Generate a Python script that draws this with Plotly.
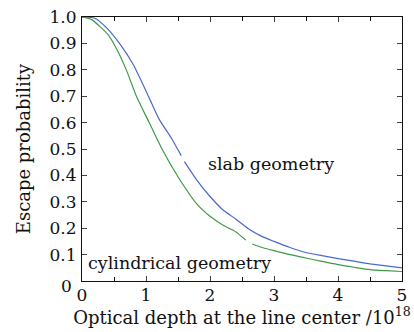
import plotly.graph_objects as go

tau_slab = [0, 0.2, 0.4, 0.6, 0.8, 1.0, 1.2, 1.4, 1.55, None, 1.6, 1.8, 2.0, 2.2, 2.4, 2.6, 2.8, 3.0, 3.25, 3.5, 3.75, 4.0, 4.25, 4.5, 4.75, 5.0]
p_slab = [1.0, 0.995, 0.955, 0.895, 0.82, 0.72, 0.615, 0.54, 0.475, None, 0.452, 0.38, 0.32, 0.27, 0.235, 0.198, 0.17, 0.15, 0.127, 0.108, 0.096, 0.085, 0.075, 0.065, 0.057, 0.05]

tau_cyl = [0, 0.15, 0.4, 0.55, 0.7, 0.85, 1.05, 1.25, 1.5, 1.8, 2.0, 2.2, 2.4, 2.56, None, 2.66, 2.8, 3.0, 3.25, 3.5, 3.75, 4.0, 4.25, 4.5, 4.75, 5.0]
p_cyl = [1.0, 0.99, 0.935, 0.875, 0.795, 0.7, 0.6, 0.5, 0.395, 0.29, 0.245, 0.212, 0.187, 0.155, None, 0.14, 0.128, 0.115, 0.1, 0.087, 0.074, 0.062, 0.052, 0.043, 0.039, 0.036]

y_ticks = [0, 0.1, 0.2, 0.3, 0.4, 0.5, 0.6, 0.7, 0.8, 0.9, 1.0]
y_labels = ["0", "0.1", "0.2", "0.3", "0.4", "0.5", "0.6", "0.7", "0.8", "0.9", "1.0"]
x_ticks = [0, 1, 2, 3, 4, 5]

FONT = "DejaVu Serif"

fig = go.Figure()
fig.add_trace(go.Scatter(x=tau_slab, y=p_slab, mode="lines",
                         line=dict(color="#4a68cc", width=1.2, shape="spline", smoothing=0.6),
                         showlegend=False))
fig.add_trace(go.Scatter(x=tau_cyl, y=p_cyl, mode="lines",
                         line=dict(color="#3f9a48", width=1.2, shape="spline", smoothing=0.6),
                         showlegend=False))

fig.add_annotation(x=2.95, y=0.445, text="slab geometry", showarrow=False,
                   font=dict(family=FONT, size=17.5, color="#111"))
fig.add_annotation(x=1.53, y=0.07, text="cylindrical geometry", showarrow=False,
                   font=dict(family=FONT, size=17.5, color="#111"))
# y-axis "0" label sits slightly below its tick in the reference
fig.add_annotation(xref="paper", x=0, y=y_ticks[0], text=y_labels[0], showarrow=False,
                   xanchor="right", yanchor="middle", xshift=-8, yshift=-5,
                   font=dict(family=FONT, size=17, color="#111"))

fig.update_layout(
    width=414, height=332,
    margin=dict(l=82, r=7, t=14, b=51),
    paper_bgcolor="white", plot_bgcolor="white",
    font=dict(family=FONT, size=16, color="#111"),
    xaxis=dict(range=[0, 5], tickvals=x_ticks, ticks="inside", ticklen=5,
               showline=True, linecolor="#111", linewidth=1.2, mirror="ticks",
               showgrid=False, zeroline=False, tickfont=dict(size=17),
               ticklabelstandoff=-2,
               minor=dict(dtick=0.5, ticks="inside", ticklen=4, tickcolor="#111", showgrid=False),
               title=dict(text="Optical depth at the line center /10<sup>18</sup>",
                          font=dict(size=18), standoff=2)),
    yaxis=dict(range=[0, 1.0], tickvals=y_ticks, ticktext=[""] + y_labels[1:], ticks="inside", ticklen=5,
               showline=True, linecolor="#111", linewidth=1.2, mirror="ticks",
               showgrid=False, zeroline=False, tickfont=dict(size=17),
               ticklabelstandoff=1,
               title=dict(text="Escape probability", font=dict(size=18), standoff=14)),
)

fig.write_html("out.html")
